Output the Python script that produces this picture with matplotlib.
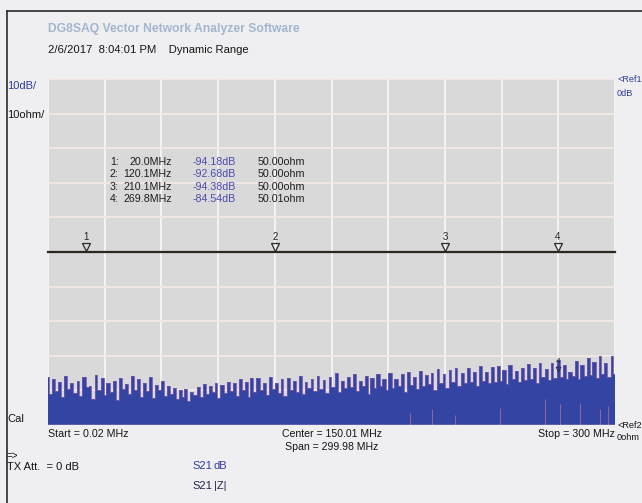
import numpy as np
import matplotlib
matplotlib.use("Agg")
import matplotlib.pyplot as plt
from matplotlib.lines import Line2D
from matplotlib.transforms import offset_copy

plt.rcParams['font.family'] = ['Liberation Sans', 'DejaVu Sans']

# ---------------- data ----------------
start_mhz = 0.02
stop_mhz = 300.0
db_ticks = [-100, -90, -80, -70, -60, -50, -40, -30, -20, -10, 0]
ohm_range = [0, 100]

marker_ids = ["1", "2", "3", "4"]
marker_freq = [20.0, 120.1, 210.1, 269.8]
marker_freq_txt = ["20.0MHz", "120.1MHz", "210.1MHz", "269.8MHz"]
marker_db = [-94.18, -92.68, -94.38, -84.54]
marker_db_txt = ["-94.18dB", "-92.68dB", "-94.38dB", "-84.54dB"]
marker_ohm = [50.00, 50.00, 50.00, 50.01]
marker_ohm_txt = ["50.00ohm", "50.00ohm", "50.00ohm", "50.01ohm"]

z_freq = [0.02, 300.0]
z_ohm = [50.00, 50.00]

s21_db = [
    -86.0, -91.0, -86.8, -90.2, -87.5, -92.0, -85.8, -89.5, -88.0, -90.8,
    -87.2, -91.5, -86.0, -89.0, -88.6, -92.5, -85.6, -90.0, -86.5, -91.2,
    -88.0, -90.5, -87.3, -92.8, -86.4, -89.6, -88.2, -91.0, -85.9, -90.0,
    -86.8, -91.8, -87.8, -90.3, -86.0, -92.2, -88.4, -89.8, -87.4, -91.5,
    -88.8, -91.0, -89.2, -92.5, -90.0, -91.8, -89.5, -93.0, -90.5, -91.2,
    -89.0, -92.0, -88.2, -91.0, -88.8, -90.5, -87.8, -92.2, -88.5, -90.8,
    -87.5, -90.2, -88.0, -91.5, -86.8, -89.8, -87.6, -92.0, -86.4, -90.4,
    -86.5, -90.0, -87.8, -91.2, -86.2, -89.5, -88.0, -90.8, -86.8, -91.6,
    -86.4, -89.8, -87.2, -90.6, -85.8, -91.0, -87.5, -89.4, -86.6, -90.2,
    -85.8, -89.6, -87.0, -90.8, -86.2, -88.9, -84.9, -90.4, -87.4, -89.2,
    -86.0, -89.0, -85.4, -90.2, -87.2, -88.8, -85.8, -91.0, -86.4, -89.4,
    -85.2, -88.8, -86.6, -90.0, -85.0, -89.2, -86.8, -88.6, -85.4, -90.6,
    -84.8, -88.4, -86.0, -89.6, -84.4, -88.8, -85.6, -88.2, -84.9, -89.8,
    -83.8, -88.0, -85.4, -89.2, -84.2, -87.6, -83.6, -88.8, -85.0, -87.8,
    -83.4, -87.6, -84.6, -88.6, -83.0, -87.2, -84.8, -88.0, -83.2, -87.5,
    -83.0, -87.2, -84.0, -88.2, -82.6, -86.8, -84.4, -87.6, -83.4, -86.9,
    -82.4, -86.6, -83.6, -87.8, -82.0, -86.2, -83.8, -87.0, -82.2, -86.4,
    -81.2, -86.0, -82.8, -86.8, -84.54, -85.8, -81.6, -86.6, -82.6, -85.9,
    -80.6, -85.6, -81.8, -86.4, -80.2, -85.2, -82.0, -86.0, -80.0, -85.4,
]

pink_freq = [191.5, 203.2, 215.3, 239.2, 263.0, 270.9, 281.5, 292.0, 296.3]
pink_top_db = [-96.5, -95.5, -97.0, -95.0, -92.5, -94.0, -93.5, -95.5, -94.5]

# ---------------- figure ----------------
W, H = 642, 503
fig = plt.figure(figsize=(W / 100, H / 100), dpi=100)
fig.patch.set_facecolor('#efeff1')


def fx(px):
    return px / W


def fy(py):
    return 1 - py / H


BLUE_TXT = '#2f3d9a'
BLUE_FILL = '#3444a2'
TXT = '#151515'
FS = 8

ax = fig.add_axes([fx(48), fy(425), 567 / W, 346 / H])
ax.set_facecolor('#d9d9d9')
ax.set_xlim(start_mhz, stop_mhz)
ax.set_ylim(db_ticks[0], db_ticks[-1])
ax.set_xticks(np.linspace(start_mhz, stop_mhz, 11))
ax.set_yticks(db_ticks)
ax.xaxis.grid(True, color='#f6f6f6', lw=1.3)
ax.yaxis.grid(True, color='#f4e8e6', lw=1.3)
ax.set_axisbelow(True)
ax.tick_params(length=0, labelbottom=False, labelleft=False)
for s in ax.spines.values():
    s.set_visible(False)

freq = np.linspace(start_mhz, stop_mhz, len(s21_db))
ax.fill_between(freq, db_ticks[0], s21_db, step='mid', color=BLUE_FILL,
                lw=0, zorder=3)
ax.plot(freq, s21_db, drawstyle='steps-mid', color='#7458ae', lw=0.6,
        zorder=4)
ax.vlines(pink_freq, db_ticks[0], pink_top_db, color='#c77aa0', lw=0.8,
          alpha=0.6, zorder=5)
ax.axhline(db_ticks[0], color='#f0dcdc', lw=1.0, zorder=6)

# S21 marker 4 visible above the noise
ax.plot([marker_freq[3]], [marker_db[3]], 'v', ms=3.5, mfc='none',
        mec='#222244', mew=0.6, zorder=7,
        transform=offset_copy(ax.transData, fig, y=3, units='dots'))
ax.annotate(marker_ids[3], (marker_freq[3], marker_db[3]), xytext=(0, 10),
            textcoords='offset pixels', ha='center', va='center',
            fontsize=6, color='#222244', zorder=7)

# |Z| axis
az = ax.twinx()
az.set_ylim(*ohm_range)
az.set_xlim(start_mhz, stop_mhz)
az.tick_params(length=0, labelright=False)
for s in az.spines.values():
    s.set_visible(False)
az.plot(z_freq, z_ohm, color='#2b2622', lw=1.6, zorder=5, clip_on=False)
az.plot(marker_freq, marker_ohm, 'v', ms=5.5, mfc='none', mec='#2b2b2b',
        mew=0.9, zorder=6,
        transform=offset_copy(az.transData, fig, y=5, units='dots'))
for mid, f, o in zip(marker_ids, marker_freq, marker_ohm):
    az.annotate(mid, (f, o), xytext=(0, 15), textcoords='offset pixels',
                ha='center', va='center', fontsize=7, color='#222222')

# marker table
TFS = 7.7
row_y = [162, 174.5, 187, 199.5]
for i in range(4):
    fig.text(fx(110), fy(row_y[i]), marker_ids[i] + ":", fontsize=TFS,
             va='center', ha='left', color='#1e1e1e')
    fig.text(fx(172), fy(row_y[i]), marker_freq_txt[i], fontsize=TFS,
             va='center', ha='right', color='#1e1e1e')
    fig.text(fx(193), fy(row_y[i]), marker_db_txt[i], fontsize=TFS,
             va='center', ha='left', color='#4b4bb0')
    fig.text(fx(258), fy(row_y[i]), marker_ohm_txt[i], fontsize=TFS,
             va='center', ha='left', color='#1e1e1e')

# header texts
fig.text(fx(48), fy(29), "DG8SAQ Vector Network Analyzer Software",
         fontsize=8.7, fontweight='bold', color='#a3b6cf', va='center')
fig.text(fx(48), fy(50), "2/6/2017  8:04:01 PM    Dynamic Range",
         fontsize=8.1, color=TXT, va='center')

# left labels
fig.text(fx(7), fy(86), "10dB/", fontsize=FS, color=BLUE_TXT, va='center')
fig.text(fx(7), fy(115), "10ohm/", fontsize=FS, color=TXT, va='center')
fig.text(fx(7), fy(419), "Cal", fontsize=FS, color=TXT, va='center')
fig.text(fx(7), fy(456), "=>", fontsize=7, color=TXT, va='center')
fig.text(fx(7), fy(467), "TX Att.  = 0 dB", fontsize=FS, color=TXT,
         va='center')

# right labels
RFS = 6.6
fig.text(fx(617), fy(80), "<Ref1", fontsize=RFS, color=BLUE_TXT,
         va='center')
fig.text(fx(617), fy(93), "0dB", fontsize=RFS, color=BLUE_TXT, va='center')
fig.text(fx(617), fy(425), "<Ref2", fontsize=RFS, color=TXT, va='center')
fig.text(fx(617), fy(437), "0ohm", fontsize=RFS, color=TXT, va='center')

# frequency labels
fig.text(fx(48), fy(434), "Start = 0.02 MHz", fontsize=7.7, color=TXT,
         va='center')
fig.text(fx(332), fy(434), "Center = 150.01 MHz", fontsize=7.6,
         color=TXT, va='center', ha='center')
fig.text(fx(332), fy(447), "Span = 299.98 MHz", fontsize=7.6,
         color=TXT, va='center', ha='center')
fig.text(fx(615), fy(434), "Stop = 300 MHz", fontsize=7.7, color=TXT,
         va='center', ha='right')

# trace legend
fig.text(fx(192), fy(466), "S21", fontsize=FS, color=BLUE_TXT, va='center')
fig.text(fx(214), fy(466), "dB", fontsize=FS, color=BLUE_TXT, va='center')
fig.text(fx(192), fy(486), "S21", fontsize=FS, color='#23234a', va='center')
fig.text(fx(214), fy(486), "|Z|", fontsize=FS, color='#23234a', va='center')

# window border
fig.add_artist(Line2D([fx(7), 1.0], [fy(11), fy(11)], color='#2a2a2a',
                      lw=1.2))
fig.add_artist(Line2D([fx(7), fx(7)], [fy(11), 0.0], color='#2a2a2a',
                      lw=1.2))

fig.savefig("out.png", dpi=100, facecolor=fig.get_facecolor())
